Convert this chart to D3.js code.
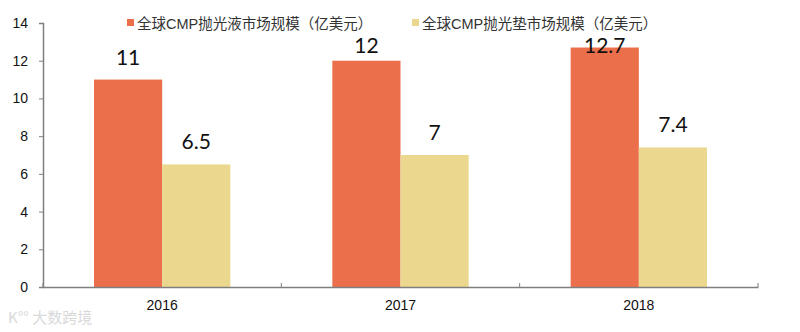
<!DOCTYPE html>
<html>
<head>
<meta charset="utf-8">
<script src="https://cdn.jsdelivr.net/npm/d3@7"></script>
<style>
  body { margin: 0; background: #fff; }
  svg text { font-family: Arial, "Liberation Sans", sans-serif; }
</style>
</head>
<body>
<div id="chart"></div>
<script>
// Global CMP slurry / pad market size (100M USD)
const years = ["2016", "2017", "2018"];
const seriesNames = ["全球CMP抛光液市场规模（亿美元）", "全球CMP抛光垫市场规模（亿美元）"];
const slurry = [11, 12, 12.7];
const pad = [6.5, 7, 7.4];
const yTicks = [0, 2, 4, 6, 8, 10, 12, 14];

const width = 800, height = 332;
const margin = { top: 23, right: 42, bottom: 45, left: 43 };
const colors = ["#EC6F4B", "#EBD88E"];

const rows = years.map((yr, i) => ({ year: yr, values: [slurry[i], pad[i]] }));

const svg = d3.select("#chart").append("svg")
  .attr("width", width).attr("height", height);

// --- Scales ---
const x = d3.scaleBand()
  .domain(years)
  .range([margin.left, width - margin.right])
  .padding(0);

const x1 = d3.scaleBand()
  .domain([0, 1])
  .range([x.bandwidth() * 0.214, x.bandwidth() * 0.786])
  .padding(0);

const y = d3.scaleLinear()
  .domain([0, 14])
  .range([height - margin.bottom, margin.top]);

// --- Bars ---
const groups = svg.selectAll("g.year")
  .data(rows)
  .enter().append("g")
  .attr("class", "year")
  .attr("transform", d => `translate(${x(d.year)},0)`);

groups.selectAll("rect")
  .data(d => d.values)
  .enter().append("rect")
  .attr("x", (d, i) => x1(i))
  .attr("y", d => y(d))
  .attr("width", x1.bandwidth())
  .attr("height", d => y(0) - y(d))
  .attr("fill", (d, i) => colors[i]);

// --- Value labels ---
groups.selectAll("text.val")
  .data(d => d.values)
  .enter().append("text")
  .attr("class", "val")
  .attr("x", (d, i) => x1(i) + x1.bandwidth() / 2)
  .attr("y", d => Math.max(y(d) - 15, 53))
  .attr("text-anchor", "middle")
  .style("font-family", "Lato, 'Open Sans', sans-serif")
  .style("font-size", "21px")
  .attr("fill", "#111")
  .text(d => d);

// --- Axes ---
const axisColor = "#7f7f7f";

const yAxis = svg.append("g")
  .attr("transform", `translate(${margin.left},0)`)
  .call(d3.axisLeft(y).tickValues(yTicks).tickSize(4).tickPadding(11));

const xAxis = svg.append("g")
  .attr("transform", `translate(0,${y(0)})`)
  .call(d3.axisBottom(x).tickSize(0).tickPadding(13));

// category boundary ticks
svg.append("g")
  .selectAll("line")
  .data(years.map(yr => x(yr)).concat([x(years[years.length - 1]) + x.bandwidth()]))
  .enter().append("line")
  .attr("x1", d => d).attr("x2", d => d)
  .attr("y1", y(0)).attr("y2", y(0) - 4)
  .attr("stroke", axisColor);

[yAxis, xAxis].forEach(a => {
  a.select(".domain").attr("stroke", axisColor).attr("stroke-width", 1.5);
  a.selectAll(".tick line").attr("stroke", axisColor);
  a.selectAll(".tick text")
    .attr("fill", "#111")
    .style("font-size", "14px");
});

// --- Legend ---
const legendX = [127, 412];
const legend = svg.selectAll("g.legend")
  .data(seriesNames)
  .enter().append("g")
  .attr("class", "legend")
  .attr("transform", (d, i) => `translate(${legendX[i]},24)`);

legend.append("rect")
  .attr("x", 0).attr("y", -5)
  .attr("width", 7).attr("height", 7)
  .attr("fill", (d, i) => colors[i]);

legend.append("text")
  .attr("x", 10).attr("y", 4.5)
  .attr("fill", "#333")
  .style("font-size", "14.5px")
  .style("font-family", "Arial, 'Noto Sans CJK SC', sans-serif")
  .text(d => d);

// --- Watermark ---
svg.append("text")
  .attr("x", 8).attr("y", 323)
  .attr("fill", "#d9d9d9")
  .style("font-size", "15px")
  .style("font-family", "'Noto Sans CJK SC', sans-serif")
  .text("K°° 大数跨境");
</script>
</body>
</html>
